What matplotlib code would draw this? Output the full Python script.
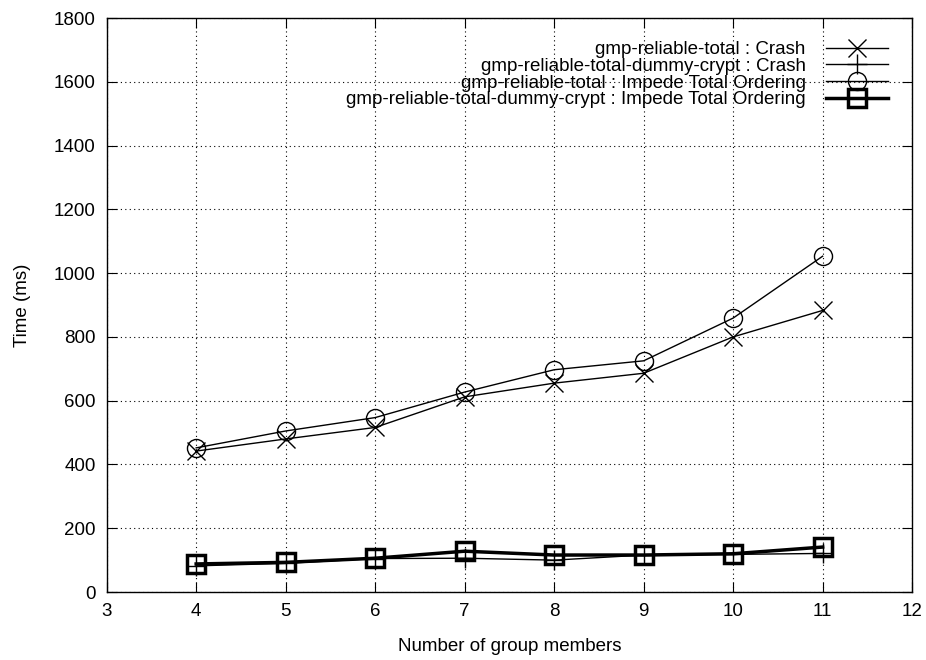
import numpy as np
from matplotlib import pyplot as plt

plt.rcParams['font.family'] = ['Liberation Sans', 'DejaVu Sans']

members = [4, 5, 6, 7, 8, 9, 10, 11]

# times in ms
total_crash = [442, 480, 516, 612, 655, 686, 800, 883]
dummy_crash = [82, 90, 105, 106, 100, 116, 118, 121]
total_impede = [452, 505, 547, 627, 697, 725, 859, 1053]
dummy_impede = [88, 93, 106, 128, 116, 116, 120, 141]

labels = [
    "gmp-reliable-total : Crash",
    "gmp-reliable-total-dummy-crypt : Crash",
    "gmp-reliable-total : Impede Total Ordering",
    "gmp-reliable-total-dummy-crypt : Impede Total Ordering",
]

fig = plt.figure(figsize=(9.26, 6.6), dpi=100)
ax = fig.add_axes([0.1152, 0.1030, 0.8698, 0.8697])

ax.plot(members, total_crash, color="black", lw=1.0, marker="x", ms=13,
        mew=1.0, label=labels[0])
ax.plot(members, dummy_crash, color="black", lw=1.0, marker="+", ms=15,
        mew=1.0, label=labels[1])
ax.plot(members, total_impede, color="black", lw=1.0, marker="o", ms=13,
        mfc="none", mew=1.0, label=labels[2])
ax.plot(members, dummy_impede, color="black", lw=2.5, marker="s", ms=13,
        mfc="none", mew=2.5, label=labels[3])

ax.set_xlim(3, 12)
ax.set_ylim(0, 1800)
ax.set_xticks(np.arange(3, 13, 1))
ax.set_yticks(np.arange(0, 1801, 200))
ax.grid(True, color="black", linestyle=(0, (1, 3)), linewidth=0.8)
ax.tick_params(direction="in", top=True, right=True, length=7,
               labelsize=13.5, pad=8)
for s in ax.spines.values():
    s.set_linewidth(1.0)

ax.set_xlabel("Number of group members", fontsize=13.5, labelpad=13)
ax.set_ylabel("Time (ms)", fontsize=13.5, labelpad=16)

ax.legend(loc="upper right", bbox_to_anchor=(0.979, 0.9725), borderaxespad=0,
          frameon=False, markerfirst=False, fontsize=13.5,
          handlelength=3.3, handletextpad=1.07, labelspacing=-0.03)

fig.savefig("out.png", dpi=100)
